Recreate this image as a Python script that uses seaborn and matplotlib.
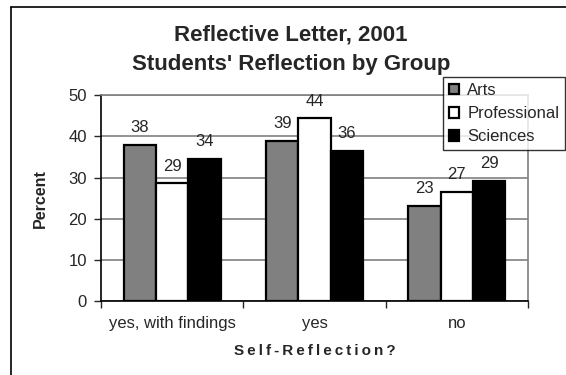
import pandas as pd
import seaborn as sns
import matplotlib.pyplot as plt
from matplotlib.lines import Line2D
from matplotlib.patches import Patch

categories = ["yes, with findings", "yes", "no"]
groups = ["Arts", "Professional", "Sciences"]
arts = [38.0, 38.9, 23.2]
professional = [28.6, 44.4, 26.6]
sciences = [34.5, 36.5, 29.2]
arts_labels = ["38", "39", "23"]
professional_labels = ["29", "44", "27"]
sciences_labels = ["34", "36", "29"]
colors = ["#808080", "#ffffff", "#000000"]

rows = []
for g, vals in zip(groups, [arts, professional, sciences]):
    for c, v in zip(categories, vals):
        rows.append({"Self-Reflection?": c, "Group": g, "Percent": v})
df = pd.DataFrame(rows)

sns.set_style("white")
plt.rcParams["font.family"] = ["Liberation Sans", "DejaVu Sans"]

fig = plt.figure(figsize=(5.66, 3.75), dpi=100)
ax = fig.add_axes([0.1784, 0.197, 0.7544, 0.549])

sns.barplot(data=df, x="Self-Reflection?", y="Percent", hue="Group",
            hue_order=groups, palette=colors, width=0.68, gap=0,
            edgecolor="black", linewidth=1.6, ax=ax, legend=False)

for cont, labs in zip(ax.containers, [arts_labels, professional_labels, sciences_labels]):
    ax.bar_label(cont, labels=labs, padding=7, fontsize=12)

ax.set_ylim(0, 50)
ax.set_xlim(-0.5, 2.5)
ax.set_yticks([0, 10, 20, 30, 40, 50])
ax.yaxis.grid(True, color="#808080", linewidth=1.2)
ax.set_axisbelow(True)
ax.set_xticks([-0.5, 0.5, 1.5, 2.5], minor=False)
ax.set_xticklabels([])
ax.set_xticks([0, 1, 2], minor=True)
ax.set_xticklabels(categories, minor=True, fontsize=12)
ax.tick_params(axis="x", which="major", length=5, width=1, direction="out", bottom=True)
ax.tick_params(axis="x", which="minor", length=0, pad=11)
ax.tick_params(axis="y", length=5, width=1, direction="out", left=True, labelsize=12, pad=5)

for s in ["left", "bottom"]:
    ax.spines[s].set_color("black")
    ax.spines[s].set_linewidth(1.2)
for s in ["right", "top"]:
    ax.spines[s].set_color("#808080")
    ax.spines[s].set_linewidth(1.2)

ax.set_xlabel("\u2009".join("Self-Reflection?"), fontsize=11, fontweight="bold", labelpad=9)
ax.set_ylabel("Percent", fontsize=11.5, fontweight="heavy", labelpad=15)

fig.text(0.514, 0.907, "Reflective Letter, 2001", ha="center", va="center",
         fontsize=16, fontweight="bold")
fig.text(0.514, 0.829, "Students' Reflection by Group", ha="center", va="center",
         fontsize=16, fontweight="bold")

handles = [Patch(facecolor=c, edgecolor="black", linewidth=1.6) for c in colors]
leg = fig.legend(handles, groups, loc="upper left", bbox_to_anchor=(0.7827, 0.7947),
                 fontsize=12, frameon=True, fancybox=False, handlelength=0.6,
                 handleheight=0.6, handletextpad=0.5, borderpad=0.35,
                 labelspacing=0.5, borderaxespad=0)
leg.get_frame().set_edgecolor("black")
leg.get_frame().set_linewidth(1)

fig.add_artist(Line2D([0.0203, 0.0203], [0.0, 0.981], color="black", linewidth=1.2))
fig.add_artist(Line2D([0.0203, 1.0], [0.981, 0.981], color="black", linewidth=1.2))

fig.savefig("out.png", dpi=100)
